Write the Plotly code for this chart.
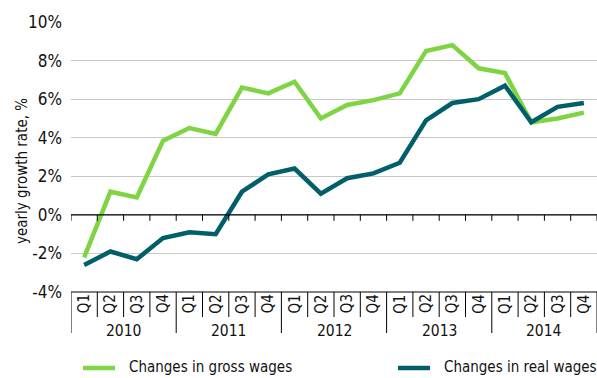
import plotly.graph_objects as go

years = ["2010", "2011", "2012", "2013", "2014"]
quarters = ["Q1", "Q2", "Q3", "Q4"]

gross_wages = [-2.2, 1.2, 0.9, 3.85, 4.5, 4.2, 6.6, 6.3,
               6.9, 5.0, 5.7, 5.95, 6.3, 8.5, 8.8, 7.6,
               7.35, 4.8, 5.0, 5.3]
real_wages = [-2.6, -1.9, -2.3, -1.2, -0.9, -1.0, 1.2, 2.1,
              2.4, 1.1, 1.9, 2.15, 2.7, 4.9, 5.8, 6.0,
              6.7, 4.8, 5.6, 5.8]

y_ticks = [-4, -2, 0, 2, 4, 6, 8, 10]
series_names = ["Changes in gross wages", "Changes in real wages"]

GREEN = "#7fd443"
TEAL = "#005f69"
FONT = "Liberation Sans Narrow, DejaVu Sans Condensed, Arial Narrow, sans-serif"

W, H = 597, 378
ML, MR, MT, MB = 71, 0, 22, 86
PW, PH = W - ML - MR, H - MT - MB
Y_MIN, Y_MAX = -4, 10


def px_x(px):
    """Horizontal pixel position -> paper coordinate."""
    return (px - ML) / PW


def px_y(px):
    """Vertical pixel position -> paper coordinate."""
    return (H - MB - px) / PH


n = len(years) * len(quarters)
x = [i + 0.5 for i in range(n)]

fig = go.Figure()
fig.add_trace(go.Scatter(x=x, y=gross_wages, mode="lines", name=series_names[0],
                         line=dict(color=GREEN, width=4.5), showlegend=False))
fig.add_trace(go.Scatter(x=x, y=real_wages, mode="lines", name=series_names[1],
                         line=dict(color=TEAL, width=4.5), showlegend=False))

shapes = []
annotations = []

# zero line with short downward ticks at each quarter boundary
zero_paper = (0 - Y_MIN) / (Y_MAX - Y_MIN)
shapes.append(dict(type="line", xref="paper", yref="paper", x0=0, x1=1,
                   y0=zero_paper, y1=zero_paper, line=dict(color="#000", width=1.2)))
for b in range(n + 1):
    shapes.append(dict(type="line", xref="x", yref="paper", x0=b, x1=b,
                       y0=zero_paper, y1=zero_paper - 6 / PH,
                       line=dict(color="#000", width=1)))

# category axis along the bottom, with quarter and year separators
shapes.append(dict(type="line", xref="paper", yref="paper", x0=0, x1=1, y0=0, y1=0,
                   line=dict(color="#000", width=1.2)))
for b in range(n + 1):
    depth = 41 if b % 4 == 0 else 25
    shapes.append(dict(type="line", xref="x", yref="paper", x0=b, x1=b,
                       y0=0, y1=-depth / PH, line=dict(color="#000", width=1)))

for i in range(n):
    annotations.append(dict(x=i + 0.5, y=px_y(304), xref="x", yref="paper",
                            text=quarters[i % 4], textangle=-90, showarrow=False,
                            xanchor="center", yanchor="middle",
                            font=dict(size=15, color="#111", family=FONT)))
for j, yr in enumerate(years):
    annotations.append(dict(x=j * 4 + 2, y=px_y(331), xref="x", yref="paper",
                            text=yr, showarrow=False,
                            xanchor="center", yanchor="middle",
                            font=dict(size=15.5, color="#111", family=FONT)))

# y-axis title
annotations.append(dict(x=px_x(22), y=px_y(171), xref="paper", yref="paper",
                        text="yearly growth rate, %", textangle=-90, showarrow=False,
                        xanchor="center", yanchor="middle",
                        font=dict(size=15, color="#111", family=FONT)))

# legend drawn below the chart
legend_items = [(series_names[0], GREEN, 83), (series_names[1], TEAL, 398)]
for label, color, x0 in legend_items:
    shapes.append(dict(type="line", xref="paper", yref="paper",
                       x0=px_x(x0), x1=px_x(x0 + 32), y0=px_y(368), y1=px_y(368),
                       line=dict(color=color, width=4.5)))
    annotations.append(dict(x=px_x(x0 + 44), y=px_y(367), xref="paper", yref="paper",
                            text=label, showarrow=False, xanchor="left", yanchor="middle",
                            font=dict(size=15, color="#111", family=FONT)))

fig.update_layout(
    width=W, height=H,
    margin=dict(l=ML, r=MR, t=MT, b=MB, autoexpand=False),
    plot_bgcolor="white", paper_bgcolor="white",
    font=dict(family=FONT, color="#111"),
    showlegend=False,
    xaxis=dict(range=[0, n], showgrid=False, zeroline=False, showticklabels=False,
               ticks="", fixedrange=True),
    yaxis=dict(range=[Y_MIN, Y_MAX], tickvals=y_ticks,
               ticktext=[f"{v}%" for v in y_ticks],
               showgrid=True, gridcolor="#c8c8c8", gridwidth=1.2, zeroline=False,
               tickfont=dict(size=17, family=FONT, color="#111"), ticks="",
               ticklabelstandoff=8, fixedrange=True),
    shapes=shapes, annotations=annotations,
)

fig.write_html("out.html")
